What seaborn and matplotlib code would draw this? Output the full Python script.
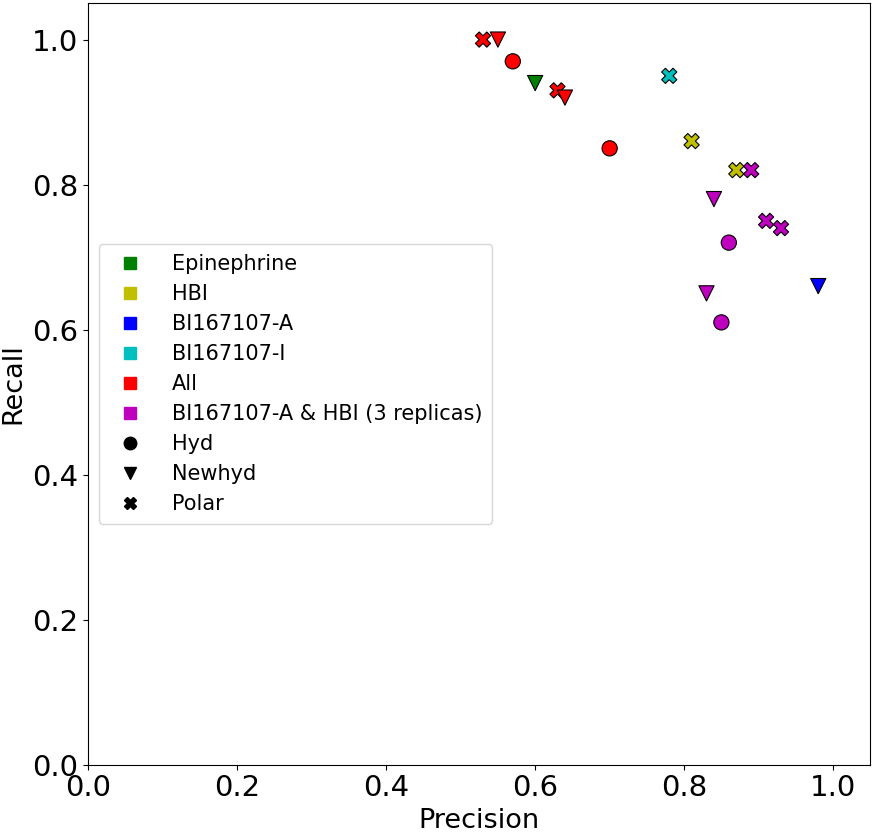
import matplotlib
matplotlib.use("Agg")
import matplotlib.pyplot as plt
import seaborn as sns
import pandas as pd
from matplotlib.lines import Line2D

datasets = ["Epinephrine", "HBI", "BI167107-A", "BI167107-I", "All",
            "BI167107-A & HBI (3 replicas)"]
colors = ["g", "y", "b", "c", "r", "m"]
methods = ["Hyd", "Newhyd", "Polar"]
markers = ["o", "v", "X"]

point_dataset = ["All", "All", "All", "All", "All",
                 "Epinephrine", "BI167107-I", "HBI", "HBI",
                 "BI167107-A & HBI (3 replicas)", "BI167107-A & HBI (3 replicas)",
                 "BI167107-A & HBI (3 replicas)", "BI167107-A & HBI (3 replicas)",
                 "BI167107-A & HBI (3 replicas)", "BI167107-A & HBI (3 replicas)",
                 "BI167107-A", "All", "BI167107-A & HBI (3 replicas)"]
point_method = ["Polar", "Newhyd", "Hyd", "Polar", "Newhyd",
                "Newhyd", "Polar", "Polar", "Polar",
                "Polar", "Newhyd", "Polar", "Polar",
                "Hyd", "Newhyd",
                "Newhyd", "Hyd", "Hyd"]
precision = [0.53, 0.55, 0.57, 0.63, 0.64,
             0.60, 0.78, 0.81, 0.87,
             0.89, 0.84, 0.91, 0.93,
             0.86, 0.83,
             0.98, 0.70, 0.85]
recall = [1.00, 1.00, 0.97, 0.93, 0.92,
          0.94, 0.95, 0.86, 0.82,
          0.82, 0.78, 0.75, 0.74,
          0.72, 0.65,
          0.66, 0.85, 0.61]

df = pd.DataFrame({"Precision": precision, "Recall": recall,
                   "dataset": point_dataset, "method": point_method})

fig, ax = plt.subplots(figsize=(8.73, 8.33), dpi=100)
sns.scatterplot(data=df, x="Precision", y="Recall", hue="dataset", style="method",
                palette=dict(zip(datasets, colors)),
                markers=dict(zip(methods, markers)),
                s=120, edgecolor="black", linewidth=0.8, ax=ax, legend=False)

ax.set_xlim(0, 1.05)
ax.set_ylim(0, 1.05)
ax.set_xticks([0.0, 0.2, 0.4, 0.6, 0.8, 1.0])
ax.set_yticks([0.0, 0.2, 0.4, 0.6, 0.8, 1.0])
ax.tick_params(labelsize=21)
ax.set_xlabel("Precision", fontsize=19.5)
ax.set_ylabel("Recall", fontsize=19.5)

handles = [Line2D([], [], marker="s", color=c, linestyle="", markersize=9)
           for c in colors]
handles += [Line2D([], [], marker=m, color="black", linestyle="", markersize=9)
            for m in markers]
labels = datasets + methods
ax.legend(handles, labels, loc="center left", fontsize=15, handletextpad=1.0,
          borderpad=0.5, labelspacing=0.48)

fig.subplots_adjust(left=0.101, right=0.997, bottom=0.082, top=0.996)
fig.savefig("out.png", dpi=100)
